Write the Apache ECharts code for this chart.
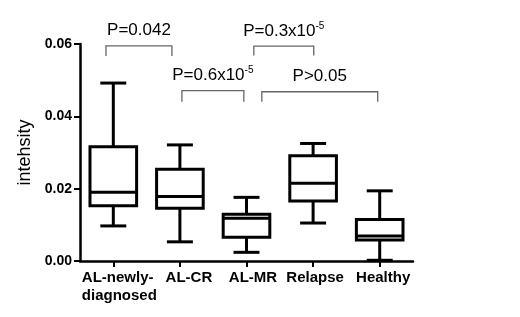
<!DOCTYPE html>
<html>
<head>
<meta charset="utf-8">
<script src="https://cdn.jsdelivr.net/npm/echarts@6/dist/echarts.min.js"></script>
<style>
html,body{margin:0;padding:0;background:#fff;}
#chart{width:520px;height:317px;}
</style>
</head>
<body>
<div id="chart"></div>
<script>
// ---- data ----
var categories = ['AL-newly-\ndiagnosed', 'AL-CR', 'AL-MR', 'Relapse', 'Healthy'];
var whiskerLow  = [0.0097, 0.0053, 0.0024, 0.0105, 0.0002];
var quartile1   = [0.0153, 0.0146, 0.0066, 0.0166, 0.0058];
var medians     = [0.0190, 0.0178, 0.0118, 0.0215, 0.0069];
var quartile3   = [0.0316, 0.0254, 0.0129, 0.0291, 0.0115];
var whiskerHigh = [0.0492, 0.0321, 0.0176, 0.0325, 0.0194];
var yTicks = [0, 0.02, 0.04, 0.06];

// significance brackets (category positions and heights in data units)
var bracketFrom = [-0.11, 1.03, 2.11, 2.23];
var bracketTo   = [0.88, 1.96, 3.01, 3.97];
var bracketTop  = [0.0595, 0.0471, 0.0594, 0.0468];
var bracketLow  = [0.0567, 0.0440, 0.0568, 0.0440];
var pBase = ['P=0.042', 'P=0.6x10', 'P=0.3x10', 'P>0.05'];
var pExp  = ['', '-5', '-5', ''];

var FONT = 'Liberation Sans, Arial, sans-serif';

var chart = echarts.init(document.getElementById('chart'), null, {renderer: 'canvas'});

var boxData = categories.map(function (c, i) {
  return [i, whiskerLow[i], quartile1[i], medians[i], quartile3[i], whiskerHigh[i]];
});
var bracketData = pBase.map(function (p, i) { return [0, bracketTop[i]]; });

function renderBox(params, api) {
  var i = api.value(0);
  var band = api.size([1, 0])[0];
  var bw = band * 0.7;
  var cw = band * 0.39;
  var pLo = api.coord([i, api.value(1)]);
  var pQ1 = api.coord([i, api.value(2)]);
  var pMd = api.coord([i, api.value(3)]);
  var pQ3 = api.coord([i, api.value(4)]);
  var pHi = api.coord([i, api.value(5)]);
  var x = pMd[0];
  var st = {stroke: '#000', lineWidth: 3, fill: null};
  return {
    type: 'group',
    children: [
      {type: 'line', shape: {x1: x, y1: pHi[1], x2: x, y2: pQ3[1]}, style: st},
      {type: 'line', shape: {x1: x, y1: pQ1[1], x2: x, y2: pLo[1]}, style: st},
      {type: 'line', shape: {x1: x - cw / 2, y1: pHi[1], x2: x + cw / 2, y2: pHi[1]}, style: st},
      {type: 'line', shape: {x1: x - cw / 2, y1: pLo[1], x2: x + cw / 2, y2: pLo[1]}, style: st},
      {type: 'rect', shape: {x: x - bw / 2, y: pQ3[1], width: bw, height: pQ1[1] - pQ3[1]},
        style: {stroke: '#000', lineWidth: 3, fill: '#fff'}},
      {type: 'line', shape: {x1: x - bw / 2, y1: pMd[1], x2: x + bw / 2, y2: pMd[1]}, style: st}
    ]
  };
}

function renderBracket(params, api) {
  var k = params.dataIndex;
  var c0 = api.coord([0, bracketTop[k]]);
  var c1 = api.coord([1, bracketLow[k]]);
  var step = c1[0] - c0[0];
  var xa = c0[0] + step * bracketFrom[k];
  var xb = c0[0] + step * bracketTo[k];
  var yt = c0[1];
  var yb = c1[1];
  var txt = pExp[k] ? '{a|' + pBase[k] + '}{b|' + pExp[k] + '}' : '{a|' + pBase[k] + '}';
  return {
    type: 'group',
    children: [
      {type: 'polyline', shape: {points: [[xa, yb], [xa, yt], [xb, yt], [xb, yb]]},
        style: {stroke: '#666', lineWidth: 1.3, fill: null}},
      {type: 'text', x: (xa + xb) / 2, y: yt - 5,
        style: {
          text: txt, align: 'center', verticalAlign: 'bottom',
          rich: {
            a: {fontFamily: FONT, fontSize: 17, fill: '#000', lineHeight: 20},
            b: {fontFamily: FONT, fontSize: 10, fill: '#000', verticalAlign: 'top', lineHeight: 20, padding: [0, 0, 8, 0]}
          }
        }}
    ]
  };
}

var labelStyle = {fontFamily: FONT, fontWeight: 'bold', fontSize: 15, color: '#000', lineHeight: 18};
function withPad(p) { return Object.assign({}, labelStyle, {padding: [0, 0, 0, p]}); }

var option = {
  animation: false,
  backgroundColor: '#fff',
  grid: {left: 80, right: 107, top: 44, bottom: 56, containLabel: false},
  xAxis: {
    type: 'category',
    data: categories,
    boundaryGap: true,
    axisLine: {show: true, lineStyle: {color: '#000', width: 2.5}},
    axisTick: {show: true, alignWithLabel: true, length: 6, lineStyle: {color: '#000', width: 2}},
    axisLabel: {
      color: '#000', fontFamily: FONT, fontWeight: 'bold', fontSize: 15, margin: 8, interval: 0,
      lineHeight: 18,
      formatter: function (v, i) {
        var lines = v.split('\n');
        if (lines.length > 1) {
          return lines.map(function (s) { return '{m|' + s + '}'; }).join('\n');
        }
        return '{c' + i + '|' + v + '}';
      },
      rich: {
        m: Object.assign({}, labelStyle, {width: 63, align: 'left'}),
        c1: withPad(18),
        c2: withPad(13),
        c3: withPad(4),
        c4: withPad(7)
      }
    },
    splitLine: {show: false}
  },
  yAxis: {
    type: 'value',
    min: 0, max: 0.06, interval: 0.02,
    name: 'intehsity',
    nameLocation: 'middle',
    nameGap: 43,
    nameTextStyle: {fontFamily: FONT, fontSize: 18, color: '#000'},
    axisLine: {show: true, lineStyle: {color: '#000', width: 2.5}},
    axisTick: {show: true, length: 6, lineStyle: {color: '#000', width: 2}},
    axisLabel: {
      color: '#000', fontFamily: FONT, fontWeight: 'bold', fontSize: 14, margin: 8,
      formatter: function (v) {
        var t = yTicks.filter(function (y) { return Math.abs(y - v) < 1e-9; })[0];
        return (t !== undefined ? t : v).toFixed(2);
      }
    },
    splitLine: {show: false}
  },
  series: [
    {type: 'custom', renderItem: renderBox, data: boxData, encode: {x: 0, y: [1, 2, 3, 4, 5]}, z: 3, clip: false},
    {type: 'custom', renderItem: renderBracket, data: bracketData, encode: {x: 0, y: 1}, z: 4, clip: false, silent: true}
  ]
};
chart.setOption(option);
</script>
</body>
</html>
